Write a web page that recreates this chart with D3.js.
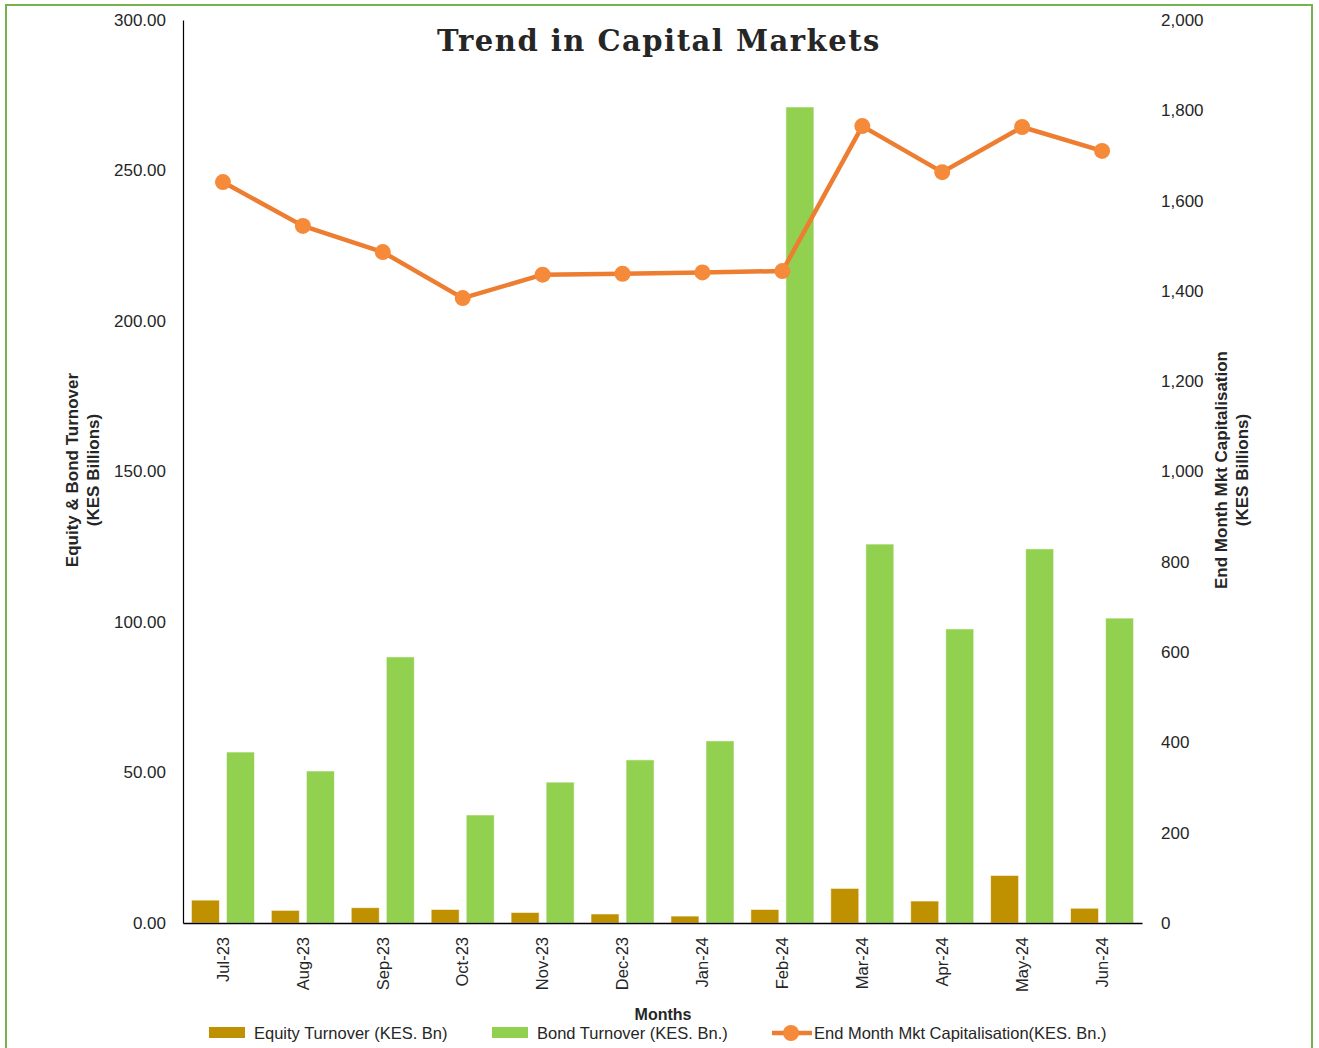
<!DOCTYPE html>
<html>
<head>
<meta charset="utf-8">
<script src="https://cdn.jsdelivr.net/npm/d3@7"></script>
<style>
  body { margin: 0; background: #fff; }
  text { font-family: "Liberation Sans", Arial, sans-serif; fill: #262626; }
</style>
</head>
<body>
<div id="chart"></div>
<script>
const months = ['Jul-23', 'Aug-23', 'Sep-23', 'Oct-23', 'Nov-23', 'Dec-23',
                'Jan-24', 'Feb-24', 'Mar-24', 'Apr-24', 'May-24', 'Jun-24'];
const equityTurnover = [7.6, 4.2, 5.1, 4.5, 3.5, 3.0, 2.3, 4.5, 11.5, 7.3, 15.8, 4.9];
const bondTurnover = [56.8, 50.5, 88.4, 35.9, 46.8, 54.2, 60.5, 271.1, 125.9, 97.7, 124.3, 101.3];
const mktCap = [1641, 1544, 1486, 1384, 1436, 1438, 1441, 1444, 1765, 1663, 1763, 1710];
const leftTicks = [0, 50, 100, 150, 200, 250, 300];
const rightTicks = [0, 200, 400, 600, 800, 1000, 1200, 1400, 1600, 1800, 2000];

const WIDTH = 1319;
const HEIGHT = 1048;
const PLOT = { left: 183, right: 1142, top: 20, bottom: 923 };
const EQUITY_COLOR = '#bf9000';
const BOND_COLOR = '#92d050';
const LINE_COLOR = '#ed7d31';
const MARKER_COLOR = '#f58a3a';
const BORDER_COLOR = '#77b24f';

const svg = d3.select('#chart')
  .append('svg')
    .attr('width', WIDTH)
    .attr('height', HEIGHT);

// outer frame
svg.append('rect')
  .attr('x', 6).attr('y', 5)
  .attr('width', 1306).attr('height', 1050)
  .attr('fill', 'none')
  .attr('stroke', BORDER_COLOR)
  .attr('stroke-width', 2);

const x = d3.scaleBand()
  .domain(months)
  .range([PLOT.left, PLOT.right]);

const xInner = d3.scaleBand()
  .domain(['equity', 'bond'])
  .range([0, x.bandwidth()])
  .paddingInner(0.2)
  .paddingOuter(0.24);

const yLeft = d3.scaleLinear().domain([0, 300]).range([PLOT.bottom, PLOT.top]);
const yRight = d3.scaleLinear().domain([0, 2000]).range([PLOT.bottom, PLOT.top]);

// bars
const groups = svg.append('g')
  .selectAll('g')
  .data(months)
  .enter()
  .append('g')
    .attr('transform', d => `translate(${x(d)}, 0)`);

groups.append('rect')
  .attr('x', xInner('equity'))
  .attr('width', xInner.bandwidth())
  .attr('y', (d, i) => yLeft(equityTurnover[i]))
  .attr('height', (d, i) => PLOT.bottom - yLeft(equityTurnover[i]))
  .attr('fill', EQUITY_COLOR)
  .attr('stroke', '#fff')
  .attr('stroke-opacity', 0.6);

groups.append('rect')
  .attr('x', xInner('bond'))
  .attr('width', xInner.bandwidth())
  .attr('y', (d, i) => yLeft(bondTurnover[i]))
  .attr('height', (d, i) => PLOT.bottom - yLeft(bondTurnover[i]))
  .attr('fill', BOND_COLOR)
  .attr('stroke', '#fff')
  .attr('stroke-opacity', 0.6);

// left axis
const leftAxis = svg.append('g')
  .attr('transform', `translate(${PLOT.left}, 0)`)
  .call(d3.axisLeft(yLeft).tickValues(leftTicks).tickSize(0).tickPadding(17).tickFormat(d3.format('.2f')));
leftAxis.select('.domain').attr('stroke', '#000').attr('stroke-width', 1.2);
leftAxis.selectAll('text').style('font-size', '17px').attr('fill', '#262626').attr('font-family', null);

// right axis
const rightAxis = svg.append('g')
  .attr('transform', `translate(${PLOT.right}, 0)`)
  .call(d3.axisRight(yRight).tickValues(rightTicks).tickSize(0).tickPadding(19).tickFormat(d3.format(',')));
rightAxis.select('.domain').remove();
rightAxis.selectAll('text').style('font-size', '17px').attr('fill', '#262626').attr('font-family', null);

// bottom axis
const bottomAxis = svg.append('g')
  .attr('transform', `translate(0, ${PLOT.bottom})`)
  .call(d3.axisBottom(x).tickSize(0).tickSizeOuter(0));
bottomAxis.select('.domain').attr('stroke', '#000').attr('stroke-width', 1.5);
bottomAxis.selectAll('text')
  .style('font-size', '16.5px')
  .attr('fill', '#000')
  .attr('font-family', null)
  .attr('transform', 'rotate(-90)')
  .attr('text-anchor', 'end')
  .attr('x', -14)
  .attr('y', 0)
  .attr('dy', '0.35em');

// line + markers
const line = d3.line()
  .x((d, i) => x(months[i]) + x.bandwidth() / 2)
  .y(d => yRight(d));

svg.append('path')
  .datum(mktCap)
  .attr('d', line)
  .attr('fill', 'none')
  .attr('stroke', LINE_COLOR)
  .attr('stroke-width', 4.5)
  .attr('stroke-linejoin', 'round');

svg.append('g')
  .selectAll('circle')
  .data(mktCap)
  .enter()
  .append('circle')
    .attr('cx', (d, i) => x(months[i]) + x.bandwidth() / 2)
    .attr('cy', d => yRight(d))
    .attr('r', 8)
    .attr('fill', MARKER_COLOR);

// title
svg.append('text')
  .attr('x', 659).attr('y', 51)
  .attr('text-anchor', 'middle')
  .style('font-family', '"DejaVu Serif", serif')
  .style('font-weight', 'bold')
  .style('font-size', '29px')
  .style('letter-spacing', '1.5px')
  .attr('fill', '#000')
  .text('Trend in Capital Markets');

// axis titles
const leftTitle = svg.append('text')
  .attr('transform', 'translate(78, 470) rotate(-90)')
  .attr('text-anchor', 'middle')
  .style('font-weight', 'bold')
  .style('font-size', '17px')
  .attr('fill', '#000');
leftTitle.append('tspan').attr('x', 0).attr('dy', 0).text('Equity & Bond Turnover');
leftTitle.append('tspan').attr('x', 0).attr('dy', '1.25em').text('(KES Billions)');

const rightTitle = svg.append('text')
  .attr('transform', 'translate(1227, 470) rotate(-90)')
  .attr('text-anchor', 'middle')
  .style('font-weight', 'bold')
  .style('font-size', '17px')
  .attr('fill', '#000');
rightTitle.append('tspan').attr('x', 0).attr('dy', 0).text('End Month Mkt Capitalisation');
rightTitle.append('tspan').attr('x', 0).attr('dy', '1.25em').text('(KES Billions)');

svg.append('text')
  .attr('x', 663).attr('y', 1020)
  .attr('text-anchor', 'middle')
  .style('font-weight', 'bold')
  .style('font-size', '16px')
  .attr('fill', '#000')
  .text('Months');

// legend
const legend = svg.append('g').attr('transform', 'translate(0, 1033)');
const legendItems = [
  { label: 'Equity Turnover (KES. Bn)', color: EQUITY_COLOR, type: 'bar', x: 209 },
  { label: 'Bond Turnover (KES. Bn.)', color: BOND_COLOR, type: 'bar', x: 492 },
  { label: 'End Month Mkt Capitalisation(KES. Bn.)', color: LINE_COLOR, type: 'line', x: 772 }
];
legendItems.forEach(item => {
  if (item.type === 'bar') {
    legend.append('rect')
      .attr('x', item.x).attr('y', -6)
      .attr('width', 36).attr('height', 11)
      .attr('fill', item.color);
    legend.append('text')
      .attr('x', item.x + 45).attr('y', 0).attr('dy', '0.35em')
      .style('font-size', '16.5px')
      .text(item.label);
  } else {
    legend.append('line')
      .attr('x1', item.x).attr('x2', item.x + 40)
      .attr('y1', 0).attr('y2', 0)
      .attr('stroke', item.color).attr('stroke-width', 4.5);
    legend.append('circle')
      .attr('cx', item.x + 19).attr('cy', 0).attr('r', 8)
      .attr('fill', MARKER_COLOR);
    legend.append('text')
      .attr('x', item.x + 42).attr('y', 0).attr('dy', '0.35em')
      .style('font-size', '16.5px')
      .text(item.label);
  }
});
</script>
</body>
</html>
